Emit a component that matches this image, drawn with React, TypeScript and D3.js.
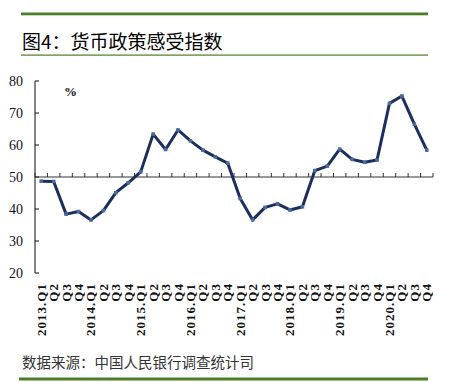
import React from "react";
import * as d3 from "d3";

const years = ["2013", "2014", "2015", "2016", "2017", "2018", "2019", "2020"];
const quarters = ["Q1", "Q2", "Q3", "Q4"];
const values = [
  48.7, 48.6, 38.4, 39.2, 36.6, 39.5, 45.1, 48.2,
  51.6, 63.4, 58.6, 64.7, 61.3, 58.4, 56.3, 54.3,
  43.3, 36.6, 40.5, 41.6, 39.7, 40.7, 52.0, 53.4,
  58.7, 55.5, 54.6, 55.3, 73.0, 75.3, 66.5, 58.4,
];
const yTicks = [20, 30, 40, 50, 60, 70, 80];
const title = "图4：货币政策感受指数";
const source = "数据来源：中国人民银行调查统计司";

const categories = years.flatMap((y) => quarters.map((q) => `${y}.${q}`));
const labelFor = (c: string) => (c.endsWith("Q1") ? c : c.slice(5));

export default function App() {
  const W = 449, H = 382;
  const x0 = 35, x1 = 433;
  const x = d3.scaleBand<string>().domain(categories).range([x0, x1]);
  const y = d3.scaleLinear().domain([20, 80]).range([273, 81]);
  const line = d3
    .line<number>()
    .x((_, i) => (x(categories[i]) as number) + x.bandwidth() / 2)
    .y((d) => y(d));
  const green = "#4b7d27";
  const navy = "#1b2f5e";
  const serif = "'Liberation Serif', 'Times New Roman', serif";
  const cjk = "'Noto Sans CJK SC', sans-serif";
  const boundaries = d3.range(categories.length + 1).map((i) => x0 + i * x.step());
  return (
    <svg width={W} height={H} style={{ position: "absolute", left: 0, top: 0, background: "#fff" }}>
      <rect x={21} y={12.5} width={407} height={2.8} fill={green} />
      <text x={22} y={49} fontFamily={cjk} fontSize={19} fontWeight={400} fill="#000">
        {title}
      </text>
      <rect x={21} y={54.5} width={407} height={1.2} fill={green} />

      {/* y axis */}
      <line x1={x0} x2={x0} y1={y(80)} y2={y(20)} stroke="#333" strokeWidth={1.2} />
      {yTicks.map((t) => (
        <g key={t}>
          <line x1={x0} x2={x0 + 4} y1={y(t)} y2={y(t)} stroke="#333" strokeWidth={1.2} />
          <text x={23} y={y(t) + 5} textAnchor="end" fontFamily={serif} fontSize={14} fill="#111">
            {t}
          </text>
        </g>
      ))}
      <text x={64} y={96} fontFamily={serif} fontSize={13} fontWeight="bold" fill="#111">
        %
      </text>

      {/* x axis at 50 */}
      <line x1={x0} x2={x1} y1={y(50)} y2={y(50)} stroke="#333" strokeWidth={1.2} />
      {boundaries.map((bx, i) => (
        <line key={i} x1={bx} x2={bx} y1={y(50)} y2={y(50) - 4} stroke="#333" strokeWidth={1} />
      ))}
      {categories.map((c) => {
        const cx = (x(c) as number) + x.bandwidth() / 2;
        return (
          <text
            key={c}
            transform={`translate(${cx + 4.5},283) rotate(-90)`}
            textAnchor="end"
            fontFamily={serif}
            fontSize={13}
            fontWeight="bold"
            letterSpacing={1}
            fill="#111"
          >
            {labelFor(c)}
          </text>
        );
      })}

      <path d={line(values) as string} fill="none" stroke={navy} strokeWidth={3} strokeLinejoin="round" />
      {values.map((v, i) => (
        <rect
          key={i}
          x={(x(categories[i]) as number) + x.bandwidth() / 2 - 1.8}
          y={y(v) - 1.8}
          width={3.6}
          height={3.6}
          fill="#4a6a9a"
        />
      ))}

      <text x={22} y={368} fontFamily={cjk} fontSize={14.5} fill="#333">
        {source}
      </text>
      <rect x={19} y={377.5} width={409} height={3} fill={green} />
    </svg>
  );
}
